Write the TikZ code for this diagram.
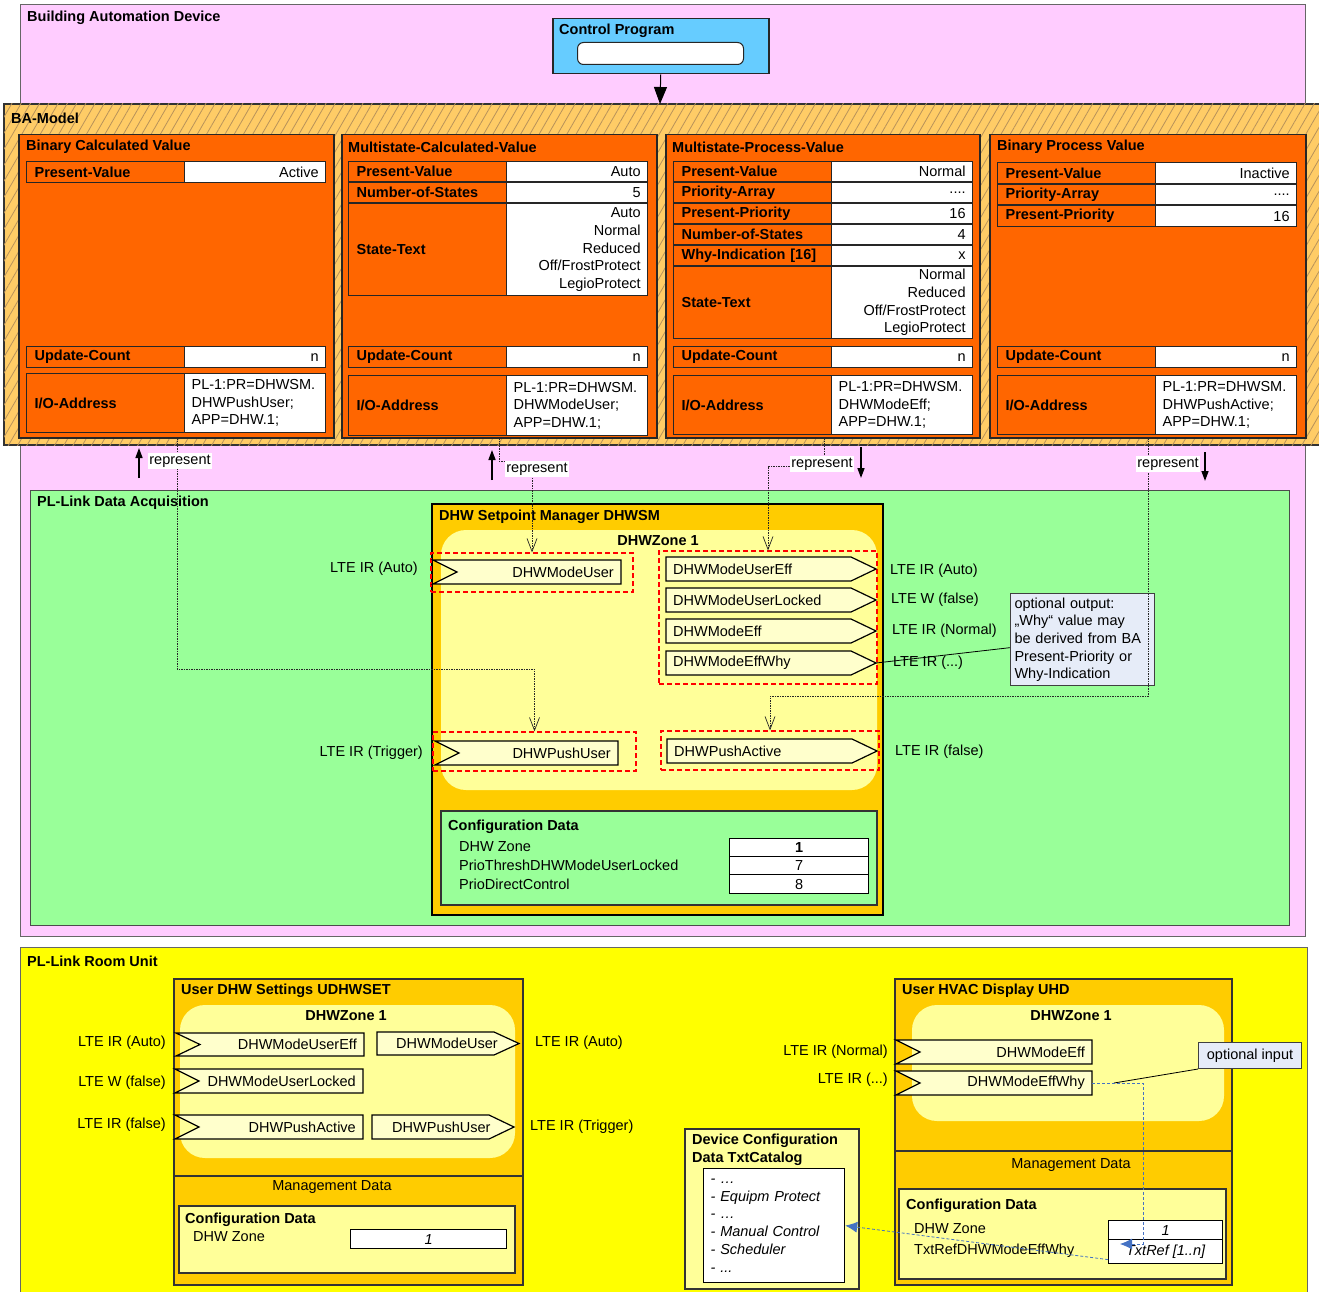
\documentclass[tikz,border=0pt]{standalone}
\usepackage{fontspec}
\setmainfont{Liberation Sans}
\usetikzlibrary{arrows.meta,patterns.meta}

\definecolor{devpink}{HTML}{FFCCFF}
\definecolor{progblue}{HTML}{66CCFF}
\definecolor{modelbg}{HTML}{FFCC66}
\definecolor{hatch}{HTML}{B8925A}
\definecolor{baorange}{HTML}{FF6600}
\definecolor{plgreen}{HTML}{99FF99}
\definecolor{fbgold}{HTML}{FFCC00}
\definecolor{zonebg}{HTML}{FFFF99}
\definecolor{portbg}{HTML}{FFFFCC}
\definecolor{roomyellow}{HTML}{FFFF00}
\definecolor{notebg}{HTML}{E6ECF8}
\definecolor{linkblue}{HTML}{4472C4}

\tikzset{
  boxline/.style={draw=black!80, line width=1.2pt},
  hd/.style={anchor=west, inner sep=0pt, font=\bfseries, yshift=-1pt},
  txt/.style={anchor=west, inner sep=0pt},
  lte/.style={inner sep=0pt},
  baobj/.style={draw=black!85, line width=1.5pt, fill=baorange, inner sep=0pt, anchor=north west},
  lblcell/.style={draw=black!85, line width=1.2pt, fill=baorange, anchor=north west,
    text width=142pt, inner xsep=8pt, inner ysep=0pt, minimum width=158pt, align=left, font=\bfseries},
  valcell/.style={draw=black!85, line width=1.2pt, fill=white, anchor=north west,
    text width=127pt, inner xsep=7pt, inner ysep=0pt, minimum width=141pt},
  port/.style={draw=black, line width=1.2pt, fill=portbg},
  zonebox/.style={fill=zonebg, rounded corners=25pt},
  grp/.style={draw=red, dash pattern=on 5pt off 3pt, line width=1.2pt, inner sep=0pt},
  represent/.style={fill=white, inner sep=1.5pt},
  repline/.style={draw=black!85, dash pattern=on 1.5pt off 1pt, line width=0.7pt,
    -{Straight Barb[length=13pt,width=10pt]}},
  reparrow/.style={line width=1.5pt, -{Triangle[length=10pt,width=7pt]}},
  note/.style={draw=black!75, line width=1pt, fill=notebg, inner sep=4pt, align=left, anchor=north west},
  cell/.style={draw=black, line width=1.2pt, fill=white, inner sep=0pt, anchor=north west},
  blink/.style={draw=linkblue, dash pattern=on 3pt off 2pt, line width=0.8pt,
    -{Latex[length=12pt,width=11pt]}},
}

% name, x, top, bottom, label, value alignment, value
\newcommand\barow[7]{%
  \node[lblcell, minimum height={(#4-#3)*1pt}] (#1-l) at (#2,#3) {#5};
  \node[valcell, align=#6, minimum height={(#4-#3)*1pt}] (#1-v) at (#2+158,#3) {#7};
}
% name, left, right, top, bottom, text
\newcommand\inport[6]{%
  \draw[port] (#2,#4) -- (#3,#4) -- (#3,#5) -- (#2,#5) -- ({#2+24},{(#4+#5)/2}) -- cycle;
  \node[lte, anchor=east] (#1) at ({#3-7},{(#4+#5)/2}) {#6};
  \coordinate (#1-end) at (#3,{(#4+#5)/2});
}
% name, left, right, top, bottom, padding, text
\newcommand\outport[7]{%
  \draw[port] (#2,#4) -- ({#3-25},#4) -- (#3,{(#4+#5)/2}) -- ({#3-25},#5) -- (#2,#5) -- cycle;
  \node[lte, anchor=west] (#1) at ({#2+#6},{(#4+#5)/2}) {#7};
  \coordinate (#1-end) at (#3,{(#4+#5)/2});
}

\begin{document}
\fontsize{14.5}{17.7}\selectfont
\begin{tikzpicture}[x=1pt,y=-1pt]
  \useasboundingbox (0,0) rectangle (1319,1292);
  \clip (0,0) rectangle (1319,1292);
  \fill[white] (0,0) rectangle (1319,1292);

  % building automation device
  \path[draw=black!60, line width=1pt, fill=devpink] (20,5) rectangle (1305,936);
  \node[hd] (badT) at (27,17) {Building Automation Device};
  \node[draw=black!85, line width=1.5pt, fill=progblue, inner sep=0pt, anchor=north west,
    minimum width=216pt, minimum height=55pt] (cp) at (552,18) {};
  \node[hd] (cpT) at (559,30) {Control Program};
  \node[draw=black!85, line width=1pt, fill=white, rounded corners=6pt, inner sep=0pt, anchor=north west,
    minimum width=166pt, minimum height=22pt] (cpBody) at (577,42) {};

  % PL-Link data acquisition
  \path[draw=black!70, line width=1pt, fill=plgreen] (30,490) rectangle (1289,925);
  \node[hd] (plT) at (37,502) {PL-Link Data Acquisition};

  % BA-Model
  \path[draw=black!80, line width=1.5pt, fill=modelbg] (4,104) rectangle (1330,445);
  \path[pattern={Lines[angle=60,distance=8pt,line width=0.8pt]}, pattern color=hatch] (4,104) rectangle (1330,445);
  \node[hd] (bamT) at (11,117) {BA-Model};
  \coordinate (bam) at (660,104);
  \draw[line width=1pt, -{Triangle[length=17pt,width=13pt]}] (cp.south) -- (bam);

  % Binary Calculated Value
  \node[baobj, minimum width=315pt, minimum height=303pt] (bcv) at (18,134) {};
  \node[hd] (bcvT) at (26,146) {Binary Calculated Value};
  \barow{bcvPV}{26}{161}{182}{Present-Value}{right}{Active}
  \barow{bcvUC}{26}{346}{367}{Update-Count}{right}{n}
  \barow{bcvIO}{26}{373}{432}{I/O-Address}{left}{PL-1:PR=DHWSM.\\DHWPushUser;\\APP=DHW.1;}

  % Multistate-Calculated-Value
  \node[baobj, minimum width=315pt, minimum height=303pt] (mcv) at (341,134) {};
  \node[hd] (mcvT) at (348,146) {Multistate-Calculated-Value};
  \barow{mcvPV}{348}{161}{181}{Present-Value}{right}{Auto}
  \barow{mcvNS}{348}{182}{202}{Number-of-States}{right}{5}
  \barow{mcvST}{348}{203}{295}{State-Text}{right}{Auto\\Normal\\Reduced\\Off/FrostProtect\\LegioProtect}
  \barow{mcvUC}{348}{346}{367}{Update-Count}{right}{n}
  \barow{mcvIO}{348}{375}{435}{I/O-Address}{left}{PL-1:PR=DHWSM.\\DHWModeUser;\\APP=DHW.1;}

  % Multistate-Process-Value
  \node[baobj, minimum width=314pt, minimum height=303pt] (mpv) at (665,134) {};
  \node[hd] (mpvT) at (672,146) {Multistate-Process-Value};
  \barow{mpvPV}{673}{161}{181}{Present-Value}{right}{Normal}
  \barow{mpvPA}{673}{182}{202}{Priority-Array}{right}{....}
  \barow{mpvPP}{673}{203}{223}{Present-Priority}{right}{16}
  \barow{mpvNS}{673}{224}{244}{Number-of-States}{right}{4}
  \barow{mpvWI}{673}{245}{265}{Why-Indication [16]}{right}{x}
  \barow{mpvST}{673}{266}{338}{State-Text}{right}{Normal\\Reduced\\Off/FrostProtect\\LegioProtect}
  \barow{mpvUC}{673}{346}{367}{Update-Count}{right}{n}
  \barow{mpvIO}{673}{375}{434}{I/O-Address}{left}{PL-1:PR=DHWSM.\\DHWModeEff;\\APP=DHW.1;}

  % Binary Process Value
  \node[baobj, minimum width=316pt, minimum height=303pt] (bpv) at (989,134) {};
  \node[hd] (bpvT) at (997,146) {Binary Process Value};
  \barow{bpvPV}{997}{162}{183}{Present-Value}{right}{Inactive}
  \barow{bpvPA}{997}{184}{204}{Priority-Array}{right}{....}
  \barow{bpvPP}{997}{205}{226}{Present-Priority}{right}{16}
  \barow{bpvUC}{997}{346}{367}{Update-Count}{right}{n}
  \barow{bpvIO}{997}{375}{434}{I/O-Address}{left}{PL-1:PR=DHWSM.\\DHWPushActive;\\APP=DHW.1;}

  % DHW setpoint manager
  \path[draw=black, line width=1.5pt, fill=fbgold] (432,504) rectangle (883,915);
  \node[hd] (dsmT) at (439,516) {DHW Setpoint Manager DHWSM};
  \path[zonebox] (441,530) rectangle (877,790);
  \node[lte, font=\bfseries] (dsmZone) at (658,541) {DHWZone 1};

  \node[grp, minimum width=202pt, minimum height=39pt] (gMU) at (532,572.5) {};
  \node[grp, minimum width=218pt, minimum height=133pt] (gOut) at (768,617.5) {};
  \node[grp, minimum width=203pt, minimum height=39pt] (gPU) at (534.5,751.5) {};
  \node[grp, minimum width=218pt, minimum height=39pt] (gPA) at (770,750.5) {};

  \inport{dsmModeUser}{433}{621}{560}{584}{DHWModeUser}
  \inport{dsmPushUser}{435}{618}{741}{765}{DHWPushUser}
  \outport{dsmModeUserEff}{666}{876}{557}{581}{7}{DHWModeUserEff}
  \outport{dsmModeUserLocked}{666}{876}{588}{612}{7}{DHWModeUserLocked}
  \outport{dsmModeEff}{666}{876}{619}{643}{7}{DHWModeEff}
  \outport{dsmModeEffWhy}{666}{876}{651}{675}{7}{DHWModeEffWhy}
  \outport{dsmPushActive}{667}{877}{739}{763}{7}{DHWPushActive}

  \node[lte, anchor=east] (dsmInL1) at (418,569) {LTE IR (Auto)};
  \node[lte, anchor=east] (dsmInL2) at (423,753) {LTE IR (Trigger)};
  \node[lte, anchor=west] (dsmOutL1) at (890,571) {LTE IR (Auto)};
  \node[lte, anchor=west] (dsmOutL2) at (891,600) {LTE W (false)};
  \node[lte, anchor=west] (dsmOutL3) at (892,631) {LTE IR (Normal)};
  \node[lte, anchor=west] (dsmOutL4) at (893,663) {LTE IR (...)};
  \node[lte, anchor=west] (dsmOutL5) at (895,752) {LTE IR (false)};

  \node[note, text width=136pt, inner xsep=4pt] (whyNote) at (1010,593)
    {optional output:\\„Why“ value may\\be derived from BA\\Present-Priority or\\Why-Indication};
  \draw[line width=0.8pt] (dsmModeEffWhy-end) -- ([yshift=-8pt]whyNote.west);

  % configuration data of DHWSM
  \path[boxline, fill=plgreen] (441,811) rectangle (877,905);
  \node[hd] (dsmCfg) at (448,826) {Configuration Data};
  \node[txt] (dsmZoneL) at (459,847) {DHW Zone};
  \node[txt] (dsmPrioL) at (459,865) {PrioThreshDHWModeUserLocked};
  \node[txt] (dsmDirL) at (459,884) {PrioDirectControl};
  \node[cell, minimum width=139pt, minimum height=18pt] (dsmZoneV) at (729,838) {\bfseries 1};
  \node[cell, minimum width=139pt, minimum height=18pt] (dsmPrioV) at (729,856) {7};
  \node[cell, minimum width=139pt, minimum height=19pt] (dsmDirV) at (729,874) {8};

  % represent links
  \draw[repline] ([xshift=-8pt,yshift=-5pt]bcvIO-l.south east) |- ([yshift=62pt]gPU.north) -- (gPU.north);
  \draw[repline] ([xshift=-8pt,yshift=-2pt]mcvIO-l.south east) |- ([yshift=91pt]gMU.north) -- (gMU.north);
  \draw[repline] ([xshift=-8pt,yshift=-3pt]mpvIO-l.south east) |- ([yshift=84pt]gOut.north) -- (gOut.north);
  \draw[repline] ([xshift=-8pt,yshift=-3pt]bpvIO-l.south east) |- ([yshift=34pt]gPA.north) -- (gPA.north);

  \node[represent] (rep1) at (180,461) {represent};
  \node[represent] (rep2) at (537,469) {represent};
  \node[represent] (rep3) at (822,464) {represent};
  \node[represent] (rep4) at (1168,464) {represent};
  \coordinate (up1a) at (139,478); \coordinate (up1b) at (139,448);
  \coordinate (up2a) at (492,480); \coordinate (up2b) at (492,450);
  \coordinate (dn3a) at (861,447); \coordinate (dn3b) at (861,478);
  \coordinate (dn4a) at (1205,452); \coordinate (dn4b) at (1205,481);
  \draw[reparrow] (up1a) -- (up1b);
  \draw[reparrow] (up2a) -- (up2b);
  \draw[reparrow] (dn3a) -- (dn3b);
  \draw[reparrow] (dn4a) -- (dn4b);

  % PL-Link room unit
  \path[draw=black!60, line width=1pt, fill=roomyellow] (20,947) rectangle (1307,1300);
  \node[hd] (ruT) at (27,960) {PL-Link Room Unit};

  % user DHW settings
  \path[boxline, fill=fbgold] (174,979) rectangle (523,1285);
  \draw[boxline] (174,1176) -- (523,1176);
  \node[hd] (udT) at (181,990) {User DHW Settings UDHWSET};
  \path[zonebox] (180,1005) rectangle (515,1158);
  \node[lte, font=\bfseries] (udZone) at (346,1016) {DHWZone 1};
  \inport{udModeUserEff}{176}{364}{1033}{1056}{DHWModeUserEff}
  \inport{udModeUserLocked}{175}{363}{1069}{1093}{DHWModeUserLocked}
  \inport{udPushActive}{175}{363}{1115}{1139}{DHWPushActive}
  \outport{udModeUser}{377}{519}{1032}{1055}{19}{DHWModeUser}
  \outport{udPushUser}{372}{514}{1115}{1139}{20}{DHWPushUser}
  \node[lte, anchor=east] (udInL1) at (166,1043) {LTE IR (Auto)};
  \node[lte, anchor=east] (udInL2) at (166,1083) {LTE W (false)};
  \node[lte, anchor=east] (udInL3) at (166,1125) {LTE IR (false)};
  \node[lte, anchor=west] (udOutL1) at (535,1043) {LTE IR (Auto)};
  \node[lte, anchor=west] (udOutL2) at (530,1127) {LTE IR (Trigger)};
  \node[lte] (udMgmt) at (332,1187) {Management Data};
  \path[boxline, fill=zonebg] (179,1206) rectangle (515,1273);
  \node[hd] (udCfg) at (185,1219) {Configuration Data};
  \node[txt] (udZoneL) at (193,1237) {DHW Zone};
  \node[cell, minimum width=156pt, minimum height=19pt, font=\itshape] (udZoneV) at (350,1229) {1};

  % device configuration data
  \path[boxline, fill=zonebg] (685,1129) rectangle (859,1289);
  \node[hd, anchor=north west, align=left] (catT) at (692,1133) {Device Configuration\\Data TxtCatalog};
  \node[cell, minimum width=141pt, minimum height=114pt, text width=127pt, inner xsep=7pt,
    align=left, font=\itshape] (catList) at (703,1168)
    {- …\\- Equipm Protect\\- …\\- Manual Control\\- Scheduler\\- ...};

  % user HVAC display
  \path[boxline, fill=fbgold] (895,979) rectangle (1232,1285);
  \draw[boxline] (895,1151) -- (1232,1151);
  \node[hd] (uhdT) at (902,990) {User HVAC Display UHD};
  \path[zonebox] (912,1005) rectangle (1224,1121);
  \node[lte, font=\bfseries] (uhdZone) at (1071,1016) {DHWZone 1};
  \inport{uhdModeEff}{896}{1092}{1040}{1064}{DHWModeEff}
  \inport{uhdModeEffWhy}{896}{1092}{1071}{1095}{DHWModeEffWhy}
  \node[lte, anchor=east] (uhdInL1) at (888,1052) {LTE IR (Normal)};
  \node[lte, anchor=east] (uhdInL2) at (888,1080) {LTE IR (...)};
  \node[lte] (uhdMgmt) at (1071,1165) {Management Data};
  \path[boxline, fill=zonebg] (899,1189) rectangle (1226,1279);
  \node[hd] (uhdCfg) at (906,1205) {Configuration Data};
  \node[txt] (uhdZoneL) at (914,1229) {DHW Zone};
  \node[txt] (uhdRefL) at (914,1251) {TxtRefDHWModeEffWhy};
  \node[cell, minimum width=114pt, minimum height=19pt, font=\itshape] (uhdZoneV) at (1108,1220) {1};
  \node[cell, minimum width=114pt, minimum height=24pt, font=\itshape] (uhdRefV) at (1108,1239) {TxtRef [1..n]};

  \node[note, minimum width=103pt, minimum height=26pt] (inNote) at (1198,1042) {optional input};
  \coordinate (whyTap) at (1114,1083);
  \draw[line width=0.8pt] (whyTap) -- (inNote.south west);

  % text reference links
  \coordinate (refTip) at (1120,1244);
  \draw[blink] (uhdModeEffWhy-end) -| (1143,1244) -- (refTip);
  \draw[blink] ([yshift=-8pt]uhdRefV.west) -- (catList.east);
\end{tikzpicture}
\end{document}
